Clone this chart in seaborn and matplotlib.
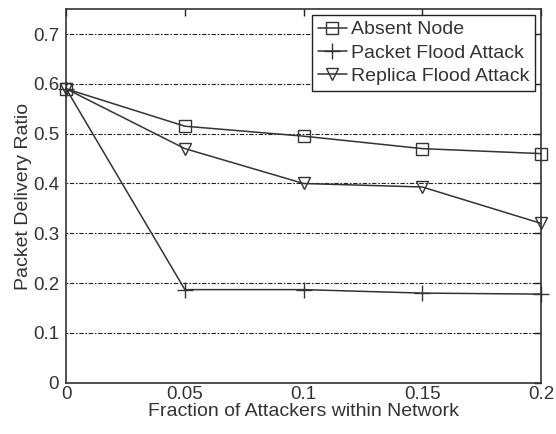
import pandas as pd
import matplotlib
matplotlib.use("Agg")
import matplotlib.pyplot as plt
import seaborn as sns

fraction = [0, 0.05, 0.1, 0.15, 0.2]
absent_node = [0.59, 0.515, 0.495, 0.47, 0.46]
packet_flood = [0.59, 0.187, 0.187, 0.18, 0.178]
replica_flood = [0.59, 0.47, 0.40, 0.393, 0.32]
series_names = ["Absent Node", "Packet Flood Attack", "Replica Flood Attack"]
series_markers = ["s", "+", "v"]

sns.set_theme(style="white")
plt.rcParams["font.family"] = ["Liberation Sans", "DejaVu Sans"]

fig = plt.figure(figsize=(5.56, 4.34), dpi=100)
ax = fig.add_axes([0.119, 0.118, 0.854, 0.861])

line_color = "#333333"
for name, values, mk in zip(series_names, [absent_node, packet_flood, replica_flood], series_markers):
    df = pd.DataFrame({"fraction": fraction, "ratio": values})
    sns.lineplot(data=df, x="fraction", y="ratio", color=line_color, marker=mk,
                 linewidth=1.1, markersize=11 if mk == "+" else 8.5,
                 markerfacecolor="none", markeredgecolor=line_color,
                 markeredgewidth=1.0, label=name, ax=ax, clip_on=False)

ax.set_xlim(0, 0.2)
ax.set_ylim(0, 0.75)
ax.set_xticks(fraction)
ax.set_xticklabels(["0", "0.05", "0.1", "0.15", "0.2"])
ax.set_yticks([0, 0.1, 0.2, 0.3, 0.4, 0.5, 0.6, 0.7])
ax.set_yticklabels(["0", "0.1", "0.2", "0.3", "0.4", "0.5", "0.6", "0.7"])
ax.yaxis.grid(True, linestyle=(0, (1.5, 1.5, 4, 1.5)), color="#222222", linewidth=0.8)
ax.xaxis.grid(False)

ax.tick_params(direction="in", top=True, right=True, length=5, width=1,
               labelsize=13.5, colors="#222222", labelcolor="#333333", pad=2)
ax.tick_params(axis="y", pad=5)
for s in ax.spines.values():
    s.set_color("#333333")
    s.set_linewidth(1.2)

ax.set_xlabel("Fraction of Attackers within Network", fontsize=14, color="#333333", labelpad=0)
ax.set_ylabel("Packet Delivery Ratio", fontsize=14, color="#333333", labelpad=1)

leg = ax.legend(loc="upper right", fontsize=14, frameon=True, fancybox=False,
                borderaxespad=0.3, handlelength=1.5, handletextpad=0.2,
                labelspacing=0.3, borderpad=0.3, framealpha=1)
leg.get_frame().set_edgecolor("#222222")
leg.get_frame().set_linewidth(1.0)
for t in leg.get_texts():
    t.set_color("#333333")

fig.savefig("out.png", dpi=100)
